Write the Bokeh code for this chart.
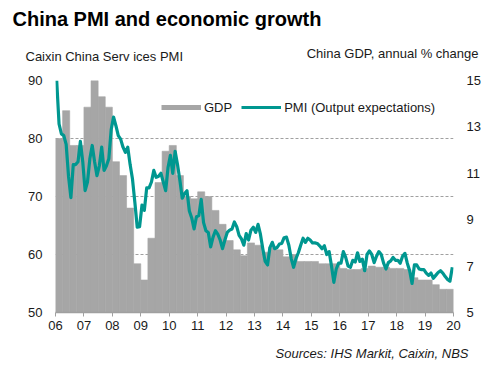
import numpy as np
from bokeh.plotting import figure
from bokeh.models import Range1d, LinearAxis, FixedTicker, Legend, LegendItem, Label
from bokeh.embed import file_html
from bokeh.resources import INLINE

# ---------------- data ----------------
start_year = 2006
gdp_quarterly = [
    12.5, 13.7, 12.2, 12.2,     # 2006
    13.85, 15.0, 14.3, 13.85,   # 2007
    11.5, 10.9, 9.5, 7.1,       # 2008
    6.4, 8.2, 10.6, 11.95,      # 2009
    12.2, 10.9, 10.0, 9.9,      # 2010
    10.2, 10.0, 9.4, 8.8,       # 2011
    8.1, 7.7, 7.45, 8.0,        # 2012
    7.9, 7.6, 7.8, 7.7,         # 2013
    7.4, 7.5, 7.2, 7.2,         # 2014
    7.2, 7.1, 7.1, 7.1,         # 2015
    6.9, 6.85, 6.85, 6.9,       # 2016
    7.0, 6.95, 6.95, 6.9,       # 2017
    6.9, 6.85, 6.5, 6.4,        # 2018
    6.4, 6.2, 6.0, 6.0,         # 2019
]
pmi_monthly = [
    90, 82.5, 80.8, 80.5, 79, 73.5, 69.8, 75.5, 75.5, 76, 79.5, 76,            # 2006
    71, 72.5, 76.5, 78.8, 76, 73.6, 75.3, 78.5, 74.5, 75.3, 76.5, 81.5,         # 2007
    83.7, 82.2, 80.5, 79.9, 78.5, 77.6, 78.5, 75.5, 73, 69, 64.7, 64.8,         # 2008
    68.5, 67.6, 71.5, 71.5, 72.5, 74.5, 73.3, 73.5, 74, 72.5, 71, 75,           # 2009
    77.1, 74, 77.8, 75.5, 72.8, 69.7, 70.5, 71, 67.5, 66.3, 64.4, 66.5,         # 2010
    66.7, 69.5, 65.5, 64.1, 63.8, 61.3, 63, 64.1, 63.5, 62.5, 61, 62.5,         # 2011
    63.8, 64.2, 64.4, 65.6, 64.8, 63.3, 62.7, 61.6, 63.6, 62.5, 64.2, 64.7,     # 2012
    63.8, 65.2, 63.5, 61, 58.8, 58.2, 61.2, 62.1, 61, 61.2, 61.8, 61.9,         # 2013
    62.9, 63, 61.6, 59.3, 57.8, 59.3, 60.3, 61.6, 62.8, 62.1, 62.8, 62.5,       # 2014
    62, 62, 61.9, 61.5, 61, 61.5, 60, 60.5, 58, 55.2, 57.5, 58.5,               # 2015
    58.5, 60.5, 59.5, 58, 57.8, 59, 58.7, 60.3, 58.8, 59.2, 57.2, 60,           # 2016
    60.6, 60, 58.6, 59.7, 60.5, 60, 58.5, 57.5, 58.6, 58.9, 59.5, 59,           # 2017
    59, 58.5, 59.7, 60.2, 58.5, 57.2, 55, 58.2, 58.2, 57.5, 57.4, 57.4,         # 2018
    56.8, 56.4, 56.8, 55.9, 56.4, 56.9, 57.2, 56.8, 56.2, 55.7, 55.4, 57.8,     # 2019
]
year_ticks = list(range(2006, 2021))
year_labels = ["06", "07", "08", "09", "10", "11", "12", "13", "14", "15",
               "16", "17", "18", "19", "20"]
pmi_ticks = [50, 60, 70, 80, 90]
gdp_ticks = [5, 7, 9, 11, 13, 15]

title_text = "China PMI and economic growth"
left_title = "Caixin China Serv ices PMI"
right_title = "China GDP, annual % change"
source_text = "Sources: IHS Markit, Caixin, NBS"

q_left = [start_year + i * 0.25 for i in range(len(gdp_quarterly))]
q_right = [x + 0.25 for x in q_left]
m_x = [start_year + (i + 0.5) / 12 for i in range(len(pmi_monthly))]

# ---------------- style ----------------
FONT = "Liberation Sans"
GRAY = "#a6a6a6"
TEAL = "#009790"
TXT = "#1a1a1a"

p = figure(width=490, height=371, output_backend="svg", toolbar_location=None,
           x_range=Range1d(2006, 2020), y_range=Range1d(50, 90),
           min_border_left=55, min_border_right=37, min_border_top=80, min_border_bottom=59)
p.extra_y_ranges = {"gdp": Range1d(5, 15)}
p.outline_line_color = None
p.background_fill_color = "white"
p.border_fill_color = "white"

p.xgrid.visible = False
p.ygrid.ticker = FixedTicker(ticks=[60, 70, 80, 90])
p.ygrid.grid_line_color = "#a0a0a0"
p.ygrid.grid_line_dash = "3 2"
p.ygrid.grid_line_width = 1

xa = p.xaxis[0]
xa.ticker = FixedTicker(ticks=year_ticks)
xa.major_label_overrides = {t: l for t, l in zip(year_ticks, year_labels)}
xa.axis_line_color = "#a0a0a0"
xa.axis_line_width = 1.5
xa.major_tick_line_color = "#a0a0a0"
xa.major_tick_in = 0
xa.major_tick_out = 4
xa.minor_tick_line_color = None
xa.major_label_standoff = 4
xa.major_label_text_font = FONT
xa.major_label_text_font_size = "13px"
xa.major_label_text_color = TXT

ya = p.yaxis[0]
ya.ticker = FixedTicker(ticks=pmi_ticks)
ya.axis_line_color = None
ya.major_tick_line_color = None
ya.major_tick_in = 0
ya.major_tick_out = 0
ya.minor_tick_line_color = None
ya.major_label_standoff = 13
ya.major_label_text_font = FONT
ya.major_label_text_font_size = "13px"
ya.major_label_text_color = TXT

ra = LinearAxis(y_range_name="gdp", ticker=FixedTicker(ticks=gdp_ticks))
ra.axis_line_color = None
ra.major_tick_line_color = None
ra.major_tick_in = 0
ra.major_tick_out = 0
ra.minor_tick_line_color = None
ra.major_label_standoff = 13
ra.major_label_text_font = FONT
ra.major_label_text_font_size = "13px"
ra.major_label_text_color = TXT
p.add_layout(ra, "right")

bars = p.quad(left=q_left, right=q_right, bottom=5, top=gdp_quarterly, y_range_name="gdp",
              fill_color=GRAY, line_color=GRAY, line_width=0.6)
line = p.line(m_x, pmi_monthly, line_color=TEAL, line_width=3.2, line_join="round")
gdp_proxy = p.line(np.array([np.nan]), np.array([np.nan]), line_color=GRAY, line_width=5)

legend = Legend(items=[LegendItem(label="GDP", renderers=[gdp_proxy]),
                       LegendItem(label="PMI (Output expectations)", renderers=[line])],
                orientation="horizontal", location=(106, 195),
                border_line_color=None, background_fill_alpha=0,
                glyph_width=40, glyph_height=20, label_standoff=3, spacing=9,
                padding=0, margin=0,
                label_text_font=FONT, label_text_font_size="13px", label_text_color=TXT)
p.add_layout(legend)

# texts outside the frame, placed in the side panels
p.add_layout(Label(x=-43, y=62, x_units="screen", y_units="screen", text=title_text,
                   text_font=FONT, text_font_size="20px", text_font_style="bold",
                   text_color="black", text_baseline="alphabetic"), "above")
p.add_layout(Label(x=-30, y=2, x_units="screen", y_units="screen", text=left_title,
                   text_font=FONT, text_font_size="13px", text_color=TXT,
                   text_baseline="alphabetic"), "above")
p.add_layout(Label(x=423, y=-10, x_units="screen", y_units="screen", text=right_title,
                   text_font=FONT, text_font_size="13px", text_color=TXT,
                   text_align="right", text_baseline="alphabetic"), "above")
p.add_layout(Label(x=413, y=-6, x_units="screen", y_units="screen", text=source_text,
                   text_font=FONT, text_font_size="13px", text_font_style="italic",
                   text_color=TXT, text_align="right", text_baseline="alphabetic"), "below")

open("out.html", "w").write(file_html(p, INLINE))
